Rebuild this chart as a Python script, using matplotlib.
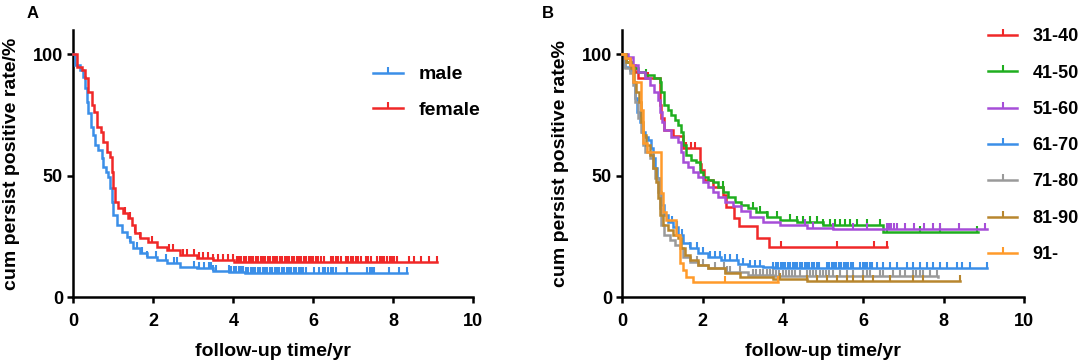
import numpy as np
import matplotlib
matplotlib.use("Agg")
import matplotlib.pyplot as plt
from matplotlib.path import Path
from matplotlib.lines import Line2D

plt.rcParams['font.family'] = ['Liberation Sans', 'DejaVu Sans']
plt.rcParams['font.weight'] = 'bold'

# ---------------- Panel A data (sex) ----------------
male_t = [0, 0.04, 0.17, 0.25, 0.29, 0.33, 0.375, 0.43, 0.48, 0.54, 0.625, 0.71, 0.75, 0.82,
          0.875, 0.92, 0.96, 1.00, 1.08, 1.21, 1.33, 1.42, 1.50, 1.67, 1.83, 2.08, 2.33, 2.67,
          3.08, 3.50, 3.90, 4.30, 8.35]
male_s = [100, 95.6, 93.6, 90.8, 86.0, 80.5, 75.7, 70.2, 66.8, 62.7, 60.6, 57.2, 53.8, 51.7,
          49.7, 44.9, 39.4, 33.9, 29.8, 27.0, 25.0, 22.9, 20.2, 18.1, 16.7, 15.4, 14.0, 12.6,
          11.9, 11.0, 10.4, 10.0, 10.0]
male_cens = [1.42, 1.58, 1.71, 1.85, 2.06, 2.31, 2.52, 2.60, 3.02, 3.14, 3.27, 3.39, 3.45,
             3.50, 3.56, 3.89, 3.95, 4.01, 4.07, 4.13, 4.19, 4.25, 4.31, 4.37, 4.43, 4.49,
             4.55, 4.61, 4.67, 4.73, 4.79, 4.85, 4.91, 4.97, 5.03, 5.09, 5.15, 5.21, 5.27,
             5.33, 5.39, 5.45, 5.51, 5.57, 5.63, 5.69, 5.75, 5.81, 6.02, 6.14, 6.23, 6.30,
             6.37, 6.44, 6.50, 6.56, 6.85, 7.35, 7.41, 7.47, 7.52, 7.90, 8.14, 8.35]

female_t = [0, 0.08, 0.21, 0.29, 0.375, 0.46, 0.52, 0.58, 0.68, 0.75, 0.83, 0.92, 0.96, 1.00,
            1.04, 1.125, 1.25, 1.375, 1.46, 1.54, 1.67, 1.875, 2.08, 2.33, 2.67, 3.08, 3.50,
            4.02, 9.10]
female_s = [100, 94.9, 93.6, 90.1, 84.6, 79.2, 76.4, 70.2, 68.2, 64.1, 59.9, 57.9, 51.7, 44.9,
            39.4, 36.6, 34.6, 32.5, 29.8, 26.3, 24.3, 22.9, 20.9, 19.5, 17.4, 16.0, 15.4,
            14.7, 14.5]
female_cens = [1.29, 1.42, 1.54, 1.67, 1.96, 2.39, 2.48, 2.73, 2.85, 3.02, 3.14, 3.25, 3.37,
               3.50, 3.62, 3.75, 3.87, 4.00, 4.08, 4.14, 4.20, 4.26, 4.32, 4.38, 4.44, 4.50,
               4.56, 4.62, 4.68, 4.74, 4.80, 4.86, 4.92, 4.98, 5.04, 5.10, 5.16, 5.22, 5.28,
               5.34, 5.40, 5.46, 5.52, 5.58, 5.64, 5.70, 5.76, 5.82, 5.88, 5.94, 6.00, 6.06,
               6.12, 6.18, 6.27, 6.43, 6.50, 6.56, 6.62, 6.68, 6.81, 6.87, 6.93, 6.98, 7.06,
               7.12, 7.18, 7.31, 7.37, 7.43, 7.60, 7.66, 7.72, 7.77, 7.85, 7.91, 7.97, 8.02,
               8.10, 8.39, 8.52, 8.68, 8.89, 9.10]

sex_labels = ["male", "female"]

# ---------------- Panel B data (age groups) ----------------
age_labels = ["31-40", "41-50", "51-60", "61-70", "71-80", "81-90", "91-"]

a31_t = [0, 0.06, 0.18, 0.31, 0.39, 0.93, 0.97, 1.03, 1.27, 1.50, 1.93, 1.97, 2.03, 2.27,
         2.50, 2.58, 2.78, 2.90, 3.35, 3.64, 6.60]
a31_s = [100, 98.4, 95.6, 92.9, 90.1, 79.2, 73.7, 68.9, 66.2, 61.3, 55.0, 52.4, 48.4, 45.3,
         42.0, 37.0, 32.8, 29.5, 24.6, 20.6, 20.6]
a31_cens = [0.65, 1.59, 1.72, 1.82, 3.94, 5.34, 6.27, 6.60]

a41_t = [0, 0.10, 0.22, 0.39, 0.56, 0.80, 0.93, 0.97, 1.05, 1.14, 1.22, 1.30, 1.39, 1.47,
         1.51, 1.59, 1.72, 1.84, 1.93, 2.00, 2.13, 2.26, 2.38, 2.51, 2.63, 2.80, 2.96, 3.13,
         3.34, 3.59, 3.93, 4.34, 5.00, 6.48, 8.86]
a41_s = [100, 97.0, 94.2, 92.9, 91.5, 90.1, 88.8, 84.6, 79.2, 77.1, 75.0, 73.0, 70.9, 68.2,
         62.7, 58.6, 56.5, 55.8, 51.7, 49.7, 48.3, 47.6, 45.5, 43.5, 41.4, 39.4, 38.0, 36.6,
         35.0, 33.2, 31.8, 31.0, 29.8, 27.0, 27.0]
a41_cens = [0.60, 2.50, 3.26, 3.43, 3.59, 3.84, 4.17, 4.34, 4.51, 4.67, 4.84, 5.00, 5.17,
            5.30, 5.42, 5.55, 5.67, 5.84, 6.08, 6.41, 6.58, 7.41, 7.91, 8.82]

a51_t = [0, 0.14, 0.27, 0.39, 0.56, 0.68, 0.80, 0.89, 0.95, 0.99, 1.05, 1.22, 1.39, 1.47,
         1.51, 1.63, 1.76, 1.88, 2.00, 2.13, 2.26, 2.38, 2.55, 2.76, 2.96, 3.18, 3.51, 3.93,
         4.59, 5.25, 9.07]
a51_s = [100, 99.0, 95.6, 92.9, 90.1, 87.4, 84.6, 81.2, 76.4, 72.3, 68.9, 66.1, 64.1, 59.9,
         55.8, 53.8, 51.7, 49.7, 47.6, 45.5, 43.5, 41.4, 39.4, 37.5, 35.5, 33.0, 31.1, 29.8,
         28.6, 28.0, 28.0]
a51_cens = [4.55, 4.75, 5.25, 5.75, 6.08, 6.58, 6.64, 6.70, 6.77, 6.83, 7.04, 7.25, 7.50,
            7.74, 7.91, 8.37, 9.03]

a61_t = [0, 0.06, 0.18, 0.27, 0.32, 0.37, 0.43, 0.49, 0.56, 0.64, 0.72, 0.76, 0.82, 0.87,
         0.93, 0.97, 1.04, 1.14, 1.26, 1.39, 1.51, 1.68, 1.88, 2.13, 2.46, 2.88, 3.13, 3.50,
         3.76, 9.07]
a61_s = [100, 94.9, 93.6, 88.8, 81.9, 76.4, 72.3, 68.2, 66.1, 64.7, 61.3, 57.2, 53.1, 49.0,
         43.5, 38.0, 33.9, 31.1, 29.1, 25.7, 22.2, 20.2, 18.1, 16.7, 15.4, 13.8, 13.0, 12.4,
         12.1, 11.9]
a61_cens = [1.23, 1.35, 1.48, 1.69, 1.85, 2.02, 2.18, 2.31, 2.43, 2.56, 2.68, 2.85, 3.01,
            3.18, 3.30, 3.43, 3.76, 3.82, 3.88, 3.94, 4.00, 4.06, 4.12, 4.18, 4.24, 4.30,
            4.36, 4.42, 4.48, 4.54, 4.60, 4.66, 4.72, 4.78, 4.84, 4.90, 5.09, 5.15, 5.21,
            5.27, 5.33, 5.39, 5.45, 5.51, 5.57, 5.63, 5.69, 5.75, 5.92, 5.98, 6.04, 6.10,
            6.16, 6.22, 6.33, 6.50, 6.66, 6.83, 7.08, 7.24, 7.41, 7.58, 7.74, 7.91, 8.08,
            8.32, 8.45, 8.66, 9.07]

a71_t = [0, 0.06, 0.18, 0.27, 0.32, 0.39, 0.46, 0.51, 0.57, 0.68, 0.76, 0.82, 0.89, 0.93,
         0.97, 1.05, 1.18, 1.30, 1.43, 1.51, 1.68, 1.88, 2.13, 2.55, 3.13, 3.76, 7.87]
a71_s = [100, 94.2, 92.2, 87.4, 80.5, 73.7, 68.2, 62.7, 59.9, 57.2, 53.1, 49.0, 43.5, 36.6,
         29.8, 25.7, 23.6, 21.5, 20.2, 16.7, 14.7, 13.3, 12.0, 10.5, 9.3, 8.8, 8.5]
a71_cens = [1.85, 2.02, 2.31, 2.52, 2.60, 2.68, 2.93, 3.26, 3.34, 3.42, 3.51, 3.59, 3.67,
            3.75, 3.83, 3.91, 3.99, 4.07, 4.15, 4.23, 4.31, 4.42, 4.59, 4.67, 4.75, 4.83,
            4.91, 4.99, 5.07, 5.15, 5.25, 5.42, 5.59, 5.75, 6.00, 6.08, 6.17, 6.41, 6.50,
            6.75, 6.91, 7.04, 7.24, 7.32, 7.41, 7.49, 7.66, 7.83]

a81_t = [0, 0.10, 0.22, 0.29, 0.35, 0.41, 0.46, 0.51, 0.60, 0.68, 0.76, 0.85, 0.90, 0.95,
         1.01, 1.14, 1.26, 1.39, 1.45, 1.55, 1.68, 1.88, 2.13, 2.55, 2.93, 3.76, 4.59, 8.41]
a81_s = [100, 97.0, 94.2, 88.8, 84.6, 80.5, 72.3, 66.8, 62.7, 58.6, 53.1, 47.6, 40.7, 33.9,
         29.8, 27.7, 25.7, 24.3, 20.2, 17.4, 15.4, 13.3, 11.9, 10.2, 8.5, 7.4, 6.8, 6.6]
a81_cens = [3.93, 4.59, 4.84, 5.09, 5.34, 5.59, 5.75, 6.00, 6.25, 6.66, 7.24, 7.49, 8.41]

a91_t = [0, 0.06, 0.18, 0.27, 0.46, 0.52, 0.62, 0.97, 1.02, 1.10, 1.34, 1.43, 1.51, 1.59,
         1.77, 3.88]
a91_s = [100, 98.4, 95.6, 88.8, 77.1, 63.4, 59.9, 42.8, 35.3, 31.8, 25.7, 14.0, 11.2, 8.4,
         6.2, 6.2]
a91_cens = [2.56, 3.88]

sex_colors = ["#3b8fe8", "#f02828"]
age_colors = ["#f02828", "#1fae1f", "#a64ed8", "#3b8fe8", "#9a9a9a", "#b8862e", "#ff9a2a"]

# tick-shaped censor marker (vertical stroke rising from the point)
TICK = Path([(0, 0), (0, 1)], [Path.MOVETO, Path.LINETO])
LW = 1.8
MS = 8.5
MEW = 1.5


def km(ax, t, s, cens, color, label):
    t = np.asarray(t, float)
    s = np.asarray(s, float)
    ax.plot(t, s, drawstyle="steps-post", color=color, lw=LW, solid_joinstyle="miter",
            clip_on=False, zorder=3)
    c = np.asarray(cens, float)
    idx = np.clip(np.searchsorted(t, c, side="right") - 1, 0, len(s) - 1)
    ax.plot(c, s[idx], linestyle="none", marker=TICK, markersize=MS, mew=MEW,
            color=color, clip_on=False, zorder=3)
    return Line2D([], [], color=color, lw=LW, marker=TICK, markersize=MS, mew=MEW,
                  label=label)


def style(ax, ylabel):
    ax.set_xlim(0, 10)
    ax.set_ylim(0, 110)
    ax.set_xticks([0, 2, 4, 6, 8, 10])
    ax.set_yticks([0, 50, 100])
    for sp in ("top", "right"):
        ax.spines[sp].set_visible(False)
    for sp in ("left", "bottom"):
        ax.spines[sp].set_linewidth(1.8)
    ax.tick_params(direction="out", length=4.5, width=1.8, labelsize=13)
    ax.tick_params(axis="x", pad=7)
    ax.tick_params(axis="y", pad=3)
    for lab in ax.get_xticklabels() + ax.get_yticklabels():
        lab.set_fontweight("bold")
    ax.set_xlabel("follow-up time/yr", fontsize=14, fontweight="bold", labelpad=9)
    ax.set_ylabel(ylabel, fontsize=14, fontweight="bold")
    ax.yaxis.set_label_coords(-0.132, 0.5)


fig = plt.figure(figsize=(10.84, 3.64), dpi=100)
W, H = 1084, 364
axA = fig.add_axes([73.3 / W, 1 - 297.3 / H, 400 / W, 267.3 / H])
axB = fig.add_axes([622.3 / W, 1 - 297.3 / H, 401.7 / W, 267.3 / H])

hA = [km(axA, male_t, male_s, male_cens, sex_colors[0], sex_labels[0]),
      km(axA, female_t, female_s, female_cens, sex_colors[1], sex_labels[1])]
style(axA, "cum persist positive rate/%")
axA.legend(handles=hA, loc="upper left", bbox_to_anchor=(365 / W, 1 - 58 / H),
           bbox_transform=fig.transFigure, frameon=False,
           handlelength=1.55, handletextpad=0.8, labelspacing=0.9, borderaxespad=0,
           prop={"weight": "bold", "size": 14})

age_t = [a31_t, a41_t, a51_t, a61_t, a71_t, a81_t, a91_t]
age_s = [a31_s, a41_s, a51_s, a61_s, a71_s, a81_s, a91_s]
age_c = [a31_cens, a41_cens, a51_cens, a61_cens, a71_cens, a81_cens, a91_cens]
hB = []
for t, s, c, col, lab in zip(age_t, age_s, age_c, age_colors, age_labels):
    hB.append(km(axB, t, s, c, col, lab))
style(axB, "cum persist positive rate%")
axB.legend(handles=hB, loc="upper left", bbox_to_anchor=(981 / W, 1 - 21 / H),
           bbox_transform=fig.transFigure, frameon=False,
           handlelength=1.6, handletextpad=0.85, labelspacing=1.07, borderaxespad=0,
           prop={"weight": "bold", "size": 13})

fig.text(33 / W, 1 - 14 / H, "A", fontsize=12, fontweight="bold", va="center", ha="center")
fig.text(548 / W, 1 - 14 / H, "B", fontsize=12, fontweight="bold", va="center", ha="center")

fig.savefig("out.png", dpi=100)
